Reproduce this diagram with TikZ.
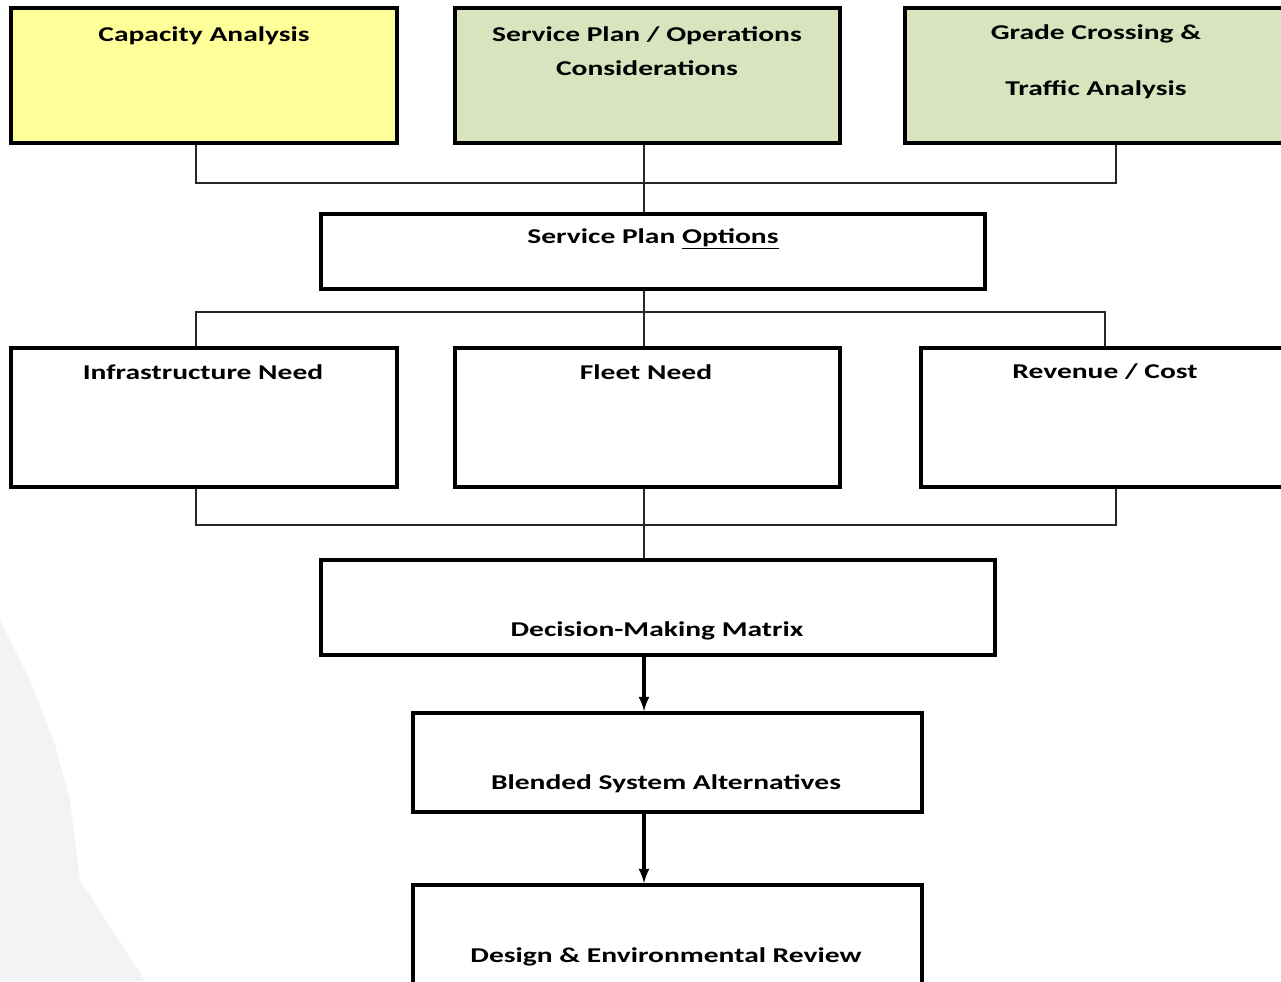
\documentclass[tikz,border=0pt]{standalone}
\usepackage{fontspec}
\setmainfont{Carlito}[FakeStretch=1.4]
\usepackage{xcolor}
\usetikzlibrary{fit}
\definecolor{capJaune}{HTML}{FFFF99}
\definecolor{planVert}{HTML}{D7E4BD}
\definecolor{fondGris}{HTML}{F3F3F3}
\tikzset{
Boite/.style={
 draw=black, 
 line width=2.1pt, 
 inner sep=0pt, 
 fit={#1}
 },
Texte/.style={
 font=\bfseries\fontsize{12}{19}\selectfont, 
 align=center, 
 inner sep=0pt
 },
Lien/.style={
 draw=black!85, 
 line width=0.8pt
 },
Fleche/.style={
 draw=black, 
 line width=1.8pt, 
 -latex
 }
}
\begin{document}
\begin{tikzpicture}[x=0.02cm,y=-0.02cm]
\useasboundingbox (0,0) rectangle (1281,981);
\fill[fondGris] (0,620) -- (30,680) -- (55,745) -- (70,800) -- (80,880) -- (145,981) -- (0,981) -- cycle;
\coordinate (axe) at (644,0);
\coordinate (hautG) at (196,183);
\coordinate (hautD) at (1116,183);
\coordinate (basG) at (196,525);
\coordinate (basD) at (1116,525);
% etudes
\node[Boite={(11,8) (397,143)}, fill=capJaune] (cap) {};
\node[Boite={(455,8) (840,143)}, fill=planVert] (ops) {};
\node[Boite={(905,8) (1327,143)}, fill=planVert] (grade) {};
\node[Texte] (capT) at (204,36) {Capacity Analysis};
\node[Texte] (opsT) at (647,51) {Service Plan / Operations\\Considerations};
\node[Texte] (gradeT) at (1096,62) {Grade Crossing \&\\[13pt]Traffic Analysis};
% options
\node[Boite={(321,214) (985,289)}] (spo) {};
\node[Texte] (spoT) at (653,239) {Service Plan \underline{Options}};
% besoins
\node[Boite={(11,348) (397,487)}] (infra) {};
\node[Boite={(455,348) (840,487)}] (fleet) {};
\node[Boite={(921,348) (1289,487)}] (rev) {};
\node[Texte] (infraT) at (203,372) {Infrastructure Need};
\node[Texte] (fleetT) at (646,372) {Fleet Need};
\node[Texte] (revT) at (1105,372) {Revenue / Cost};
% decision
\node[Boite={(321,560) (995,655)}] (dmm) {};
\node[Boite={(413,713) (922,812)}] (bsa) {};
\node[Boite={(413,885) (922,1040)}] (der) {};
\node[Texte] (dmmT) at (657,631) {Decision-Making Matrix};
\node[Texte] (bsaT) at (666,784) {Blended System Alternatives};
\node[Texte] (derT) at (666,957) {Design \& Environmental Review};
% liens
\draw[Lien] (cap.south -| hautG) -- (hautG) -- (hautD) -- (grade.south);
\draw[Lien] (ops.south -| axe) -- (spo.north -| axe);
\draw[Lien] (spo.south -| axe) -- (fleet.north -| axe);
\draw[Lien] (infra.north -| hautG) -- ++(0,-34) -| (rev.north);
\draw[Lien] (infra.south -| basG) -- (basG) -- (basD) -- (rev.south -| basD);
\draw[Lien] (fleet.south -| axe) -- (dmm.north -| axe);
\draw[Fleche] (dmm.south -| axe) -- (bsa.north -| axe);
\draw[Fleche] (bsa.south -| axe) -- (der.north -| axe);
\end{tikzpicture}
\end{document}
